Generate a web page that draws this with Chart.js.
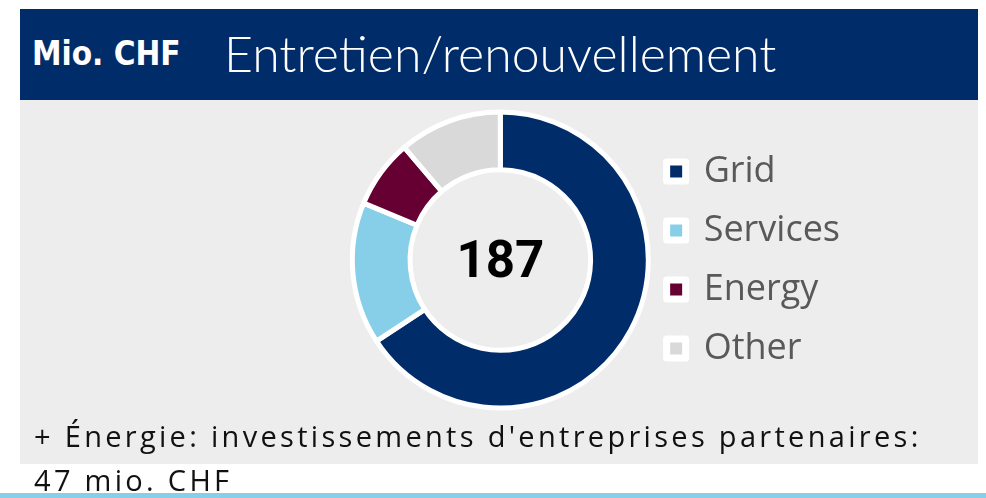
<!DOCTYPE html>
<html>
<head>
<meta charset="utf-8">
<script src="https://cdn.jsdelivr.net/npm/chart.js"></script>
<style>
  body { margin: 0; width: 986px; height: 498px; background: #fff; position: relative; overflow: hidden; font-family: "Open Sans", sans-serif; }
  .header { position: absolute; left: 20px; top: 9px; width: 958px; height: 91px; background: #002d6a; }
  .unit { position: absolute; left: 32px; top: 37px; font: bold 33px/33px "DejaVu Sans Condensed", "DejaVu Sans", sans-serif; color: #fff; }
  .title { position: absolute; left: 224px; top: 28px; font: 300 50px/50px Lato, sans-serif; color: #fff; white-space: nowrap; }
  .panel { position: absolute; left: 20px; top: 100px; width: 958px; height: 364px; background: #ededed; }
  .chart-box { position: absolute; left: 20px; top: 100px; width: 958px; height: 364px; }
  .note { position: absolute; left: 34px; font: 29px/29px "Open Sans", sans-serif; letter-spacing: 3.3px; color: #111; white-space: nowrap; }
  .bar { position: absolute; left: 0; top: 493px; width: 986px; height: 5px; background: #87cee8; }
</style>
</head>
<body>
<div class="header"></div>
<div class="unit">Mio. CHF</div>
<div class="title">Entretien/renouvellement</div>
<div class="panel"></div>
<div class="chart-box"><canvas id="myChart"></canvas></div>
<div class="note" style="top:421px">+ Énergie: investissements d'entreprises partenaires:</div>
<div class="note" style="top:465px">47 mio. CHF</div>
<div class="bar"></div>
<script>
// values (Mio. CHF)
const categories = ["Grid", "Services", "Energy", "Other"];
const values = [123, 29, 14, 21];
const colors = ["#002d6a", "#87cee8", "#660033", "#d9d9d9"];

// total in the hole
const centerTotal = {
  id: "centerTotal",
  afterDatasetsDraw(chart) {
    const meta = chart.getDatasetMeta(0);
    if (!meta.data.length) return;
    const { x, y } = meta.data[0];
    const total = chart.data.datasets[0].data.reduce((a, b) => a + b, 0);
    const ctx = chart.ctx;
    ctx.save();
    ctx.font = "bold 51px Roboto, sans-serif";
    ctx.fillStyle = "#000";
    ctx.textAlign = "center";
    ctx.textBaseline = "middle";
    ctx.fillText(String(total), x, y + 4);
    ctx.restore();
  }
};

const myChartRef = document.getElementById("myChart").getContext("2d");
new Chart(myChartRef, {
  type: "doughnut",
  data: {
    labels: categories,
    datasets: [
      {
        data: values,
        backgroundColor: colors,
        borderColor: "#ffffff",
        borderWidth: 5,
        radius: 148,
        clip: false,
      },
    ],
  },
  options: {
    responsive: true,
    maintainAspectRatio: false,
    animation: false,
    events: [],
    cutout: "61%",
    layout: {
      padding: { left: 337, right: 128, top: 9, bottom: 53 },
    },
    plugins: {
      tooltip: { enabled: false },
      legend: {
        position: "right",
        labels: {
          boxWidth: 19,
          boxHeight: 19,
          padding: 23,
          color: "#595959",
          font: { family: "Open Sans", size: 36 },
          generateLabels(chart) {
            const items = Chart.overrides.doughnut.plugins.legend.labels.generateLabels(chart);
            return items.map((it) => Object.assign(it, {
              lineWidth: 7,
              strokeStyle: "#ffffff",
              lineJoin: "round",
              fontColor: "#595959",
            }));
          },
        },
      },
    },
  },
  plugins: [centerTotal],
});
</script>
</body>
</html>
